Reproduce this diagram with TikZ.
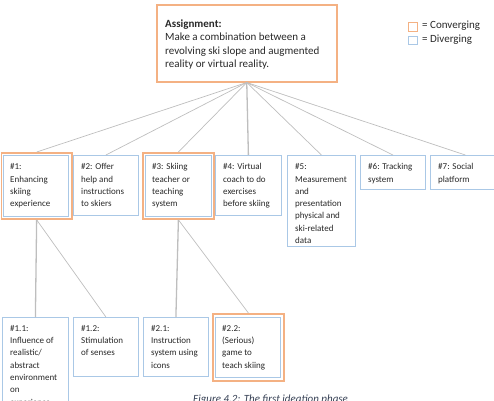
\documentclass[tikz,border=0pt]{standalone}
\usepackage{fontspec}
\setmainfont{Carlito}
\definecolor{orb}{RGB}{244,177,131}
\definecolor{blb}{RGB}{170,200,230}
\definecolor{lnc}{RGB}{190,190,190}
\definecolor{txc}{RGB}{40,40,40}
\definecolor{capc}{RGB}{55,65,85}
\begin{document}
\begin{tikzpicture}[x=1pt,y=-1pt,
  bbox/.style={draw=blb, line width=0.8, rectangle, inner sep=0, anchor=north west},
  obox/.style={draw=orb, line width=1.8, rectangle, inner sep=0, anchor=north west},
  txt/.style={anchor=north west, inner sep=0, align=left, font=\fontsize{9}{12.3}\selectfont, text=txc},
  bigtxt/.style={anchor=north west, inner sep=0, align=left, font=\fontsize{11}{13.3}\selectfont, text=txc},
  legtxt/.style={anchor=west, inner sep=0, font=\fontsize{11}{13}\selectfont, text=txc},
  conn/.style={draw=lnc, line width=0.7},
  connv/.style={draw=lnc, line width=1.3}]
\clip (0,0) rectangle (494,400);
% assignment
\node[obox, line width=1.5, minimum width=180, minimum height=77] (A) at (156,4) {};
\node[bigtxt] (At) at (165,19.5) {\textbf{Assignment:}\\Make a combination between a\\revolving ski slope and augmented\\reality or virtual reality.};
% legend
\node[obox, line width=1.2, minimum width=9.5, minimum height=8.5] (lo) at (407.5,22) {};
\node[bbox, line width=1.2, minimum width=9.5, minimum height=8.5] (lb) at (407.5,35.5) {};
\node[legtxt] (lot) at (422,25.5) {= Converging};
\node[legtxt] (lbt) at (422,39.5) {= Diverging};
% level 1
\node[obox, minimum width=70.5, minimum height=66] (b1) at (0.5,152) {};
\node[bbox, minimum width=65.5, minimum height=61] (b1i) at (2.5,155) {};
\node[txt] (t1) at (10,163.5) {\#1:\\Enhancing\\skiing\\experience};
\node[bbox, minimum width=65, minimum height=60] (b2) at (73,155) {};
\node[txt] (t2) at (81,163.5) {\#2: Offer\\help and\\instructions\\to skiers};
\node[obox, minimum width=71, minimum height=66] (b3) at (142,152) {};
\node[bbox, minimum width=66.5, minimum height=61] (b3i) at (144.5,155) {};
\node[txt] (t3) at (152,163.5) {\#3: Skiing\\teacher or\\teaching\\system};
\node[bbox, minimum width=66, minimum height=60] (b4) at (215,155) {};
\node[txt] (t4) at (223,163.5) {\#4: Virtual\\coach to do\\exercises\\before skiing};
\node[bbox, minimum width=68, minimum height=91] (b5) at (287,155) {};
\node[txt] (t5) at (295,163.5) {\#5:\\Measurement\\and\\presentation\\physical and\\ski-related\\data};
\node[bbox, minimum width=65, minimum height=34] (b6) at (360,155) {};
\node[txt] (t6) at (368,163.5) {\#6: Tracking\\system};
\node[bbox, minimum width=70, minimum height=34] (b7) at (430,155) {};
\node[txt] (t7) at (438,163.5) {\#7: Social\\platform};
% level 2
\node[bbox, minimum width=66, minimum height=95] (c11) at (2,317) {};
\node[txt] (t11) at (10,325) {\#1.1:\\Influence of\\realistic/\\abstract\\environment\\on\\experience};
\node[bbox, minimum width=65, minimum height=59] (c12) at (73,317) {};
\node[txt] (t12) at (81,325) {\#1.2:\\Stimulation\\of senses};
\node[bbox, minimum width=65, minimum height=59] (c21) at (143,317) {};
\node[txt] (t21) at (151,325) {\#2.1:\\Instruction\\system using\\icons};
\node[obox, minimum width=71, minimum height=67] (c22) at (212,313) {};
\node[bbox, minimum width=65.5, minimum height=60] (c22i) at (214.5,317) {};
\node[txt] (t22) at (222,325) {\#2.2:\\(Serious)\\game to\\teach skiing};
% caption
\node[anchor=base west, inner sep=0, font=\fontsize{11}{13}\selectfont\itshape, text=capc] (cap) at (193,402) {Figure 4.2: The first ideation phase};
% connectors
\draw[conn] (A.south) -- (b1.north);
\draw[conn] (A.south) -- (b2.north);
\draw[conn] (A.south) -- (b3.north);
\draw[connv] (A.south) -- (b4.north);
\draw[conn] (A.south) -- (b5.north);
\draw[conn] (A.south) -- (b6.north);
\draw[conn] (A.south) -- (b7.north);
\draw[connv] (b1.south) -- (c11.north);
\draw[conn] (b1.south) -- (c12.north);
\draw[connv] (b3.south) -- (c21.north);
\draw[conn] (b3.south) -- (c22.north);
\end{tikzpicture}
\end{document}
